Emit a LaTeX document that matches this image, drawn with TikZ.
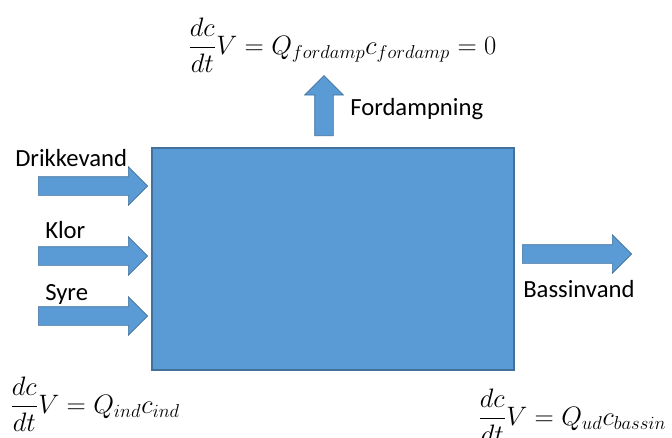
\RequirePackage{fix-cm}
\documentclass[tikz,border=0pt]{standalone}
\usepackage{amsmath}
\usepackage{fontspec}
\setmainfont{Carlito}
\usepackage{tikz}
\usetikzlibrary{shapes.arrows,positioning}
\definecolor{tankblue}{HTML}{5B9BD5}
\definecolor{tankedge}{HTML}{41719C}
\tikzset{
  tank/.style={draw=tankedge, fill=tankblue, line width=1.1pt, inner sep=0pt},
  flowarrow/.style={single arrow, anchor=tail, draw=tankedge, fill=tankblue, line width=0.5pt, inner xsep=0pt, inner ysep=6.75pt,
    single arrow head extend=7.5pt, single arrow head indent=0pt, minimum height=82pt},
  flowlabel/.style={anchor=base west, inner sep=0pt, font=\fontsize{18.5}{22}\selectfont},
  balance/.style={anchor=west, inner sep=0pt, font=\fontsize{20}{24}\selectfont}
}
\begin{document}
\begin{tikzpicture}[x=0.75pt, y=-0.75pt]
\useasboundingbox (0,0) rectangle (672,437);
% tank
\node[tank, minimum width=271.5pt, minimum height=166.5pt] (tank) at (333,259) {};
% inflows
\node[flowarrow] (drikke) at (38,186) {};
\node[flowarrow] (klor) at (38,256) {};
\node[flowarrow] (syre) at (38,316) {};
\node[flowlabel] (drikkelbl) at (15,166) {Drikkevand};
\node[flowlabel] (klorlbl) at (45,238) {Klor};
\node[flowlabel] (syrelbl) at (45,300) {Syre};
% outflow
\node[flowarrow] (bassin) at (522,254) {};
\node[flowlabel] (bassinlbl) at (523,297) {Bassinvand};
% evaporation
\node[flowarrow, shape border rotate=90, inner xsep=6.75pt, inner ysep=0pt, minimum height=45pt] (damp) at (324,136) {};
\node[flowlabel] (damplbl) at (350,115) {Fordampning};
% balances
\node[balance] (eqdamp) at (188,45) {$\displaystyle \frac{dc}{dt}V = Q_{fordamp}c_{fordamp} = 0$};
\node[balance] (eqind) at (10,404) {$\displaystyle \frac{dc}{dt}V = Q_{ind}c_{ind}$};
\node[balance] (equd) at (478,416) {$\displaystyle \frac{dc}{dt}V = Q_{ud}c_{bassin}$};
\end{tikzpicture}
\end{document}
